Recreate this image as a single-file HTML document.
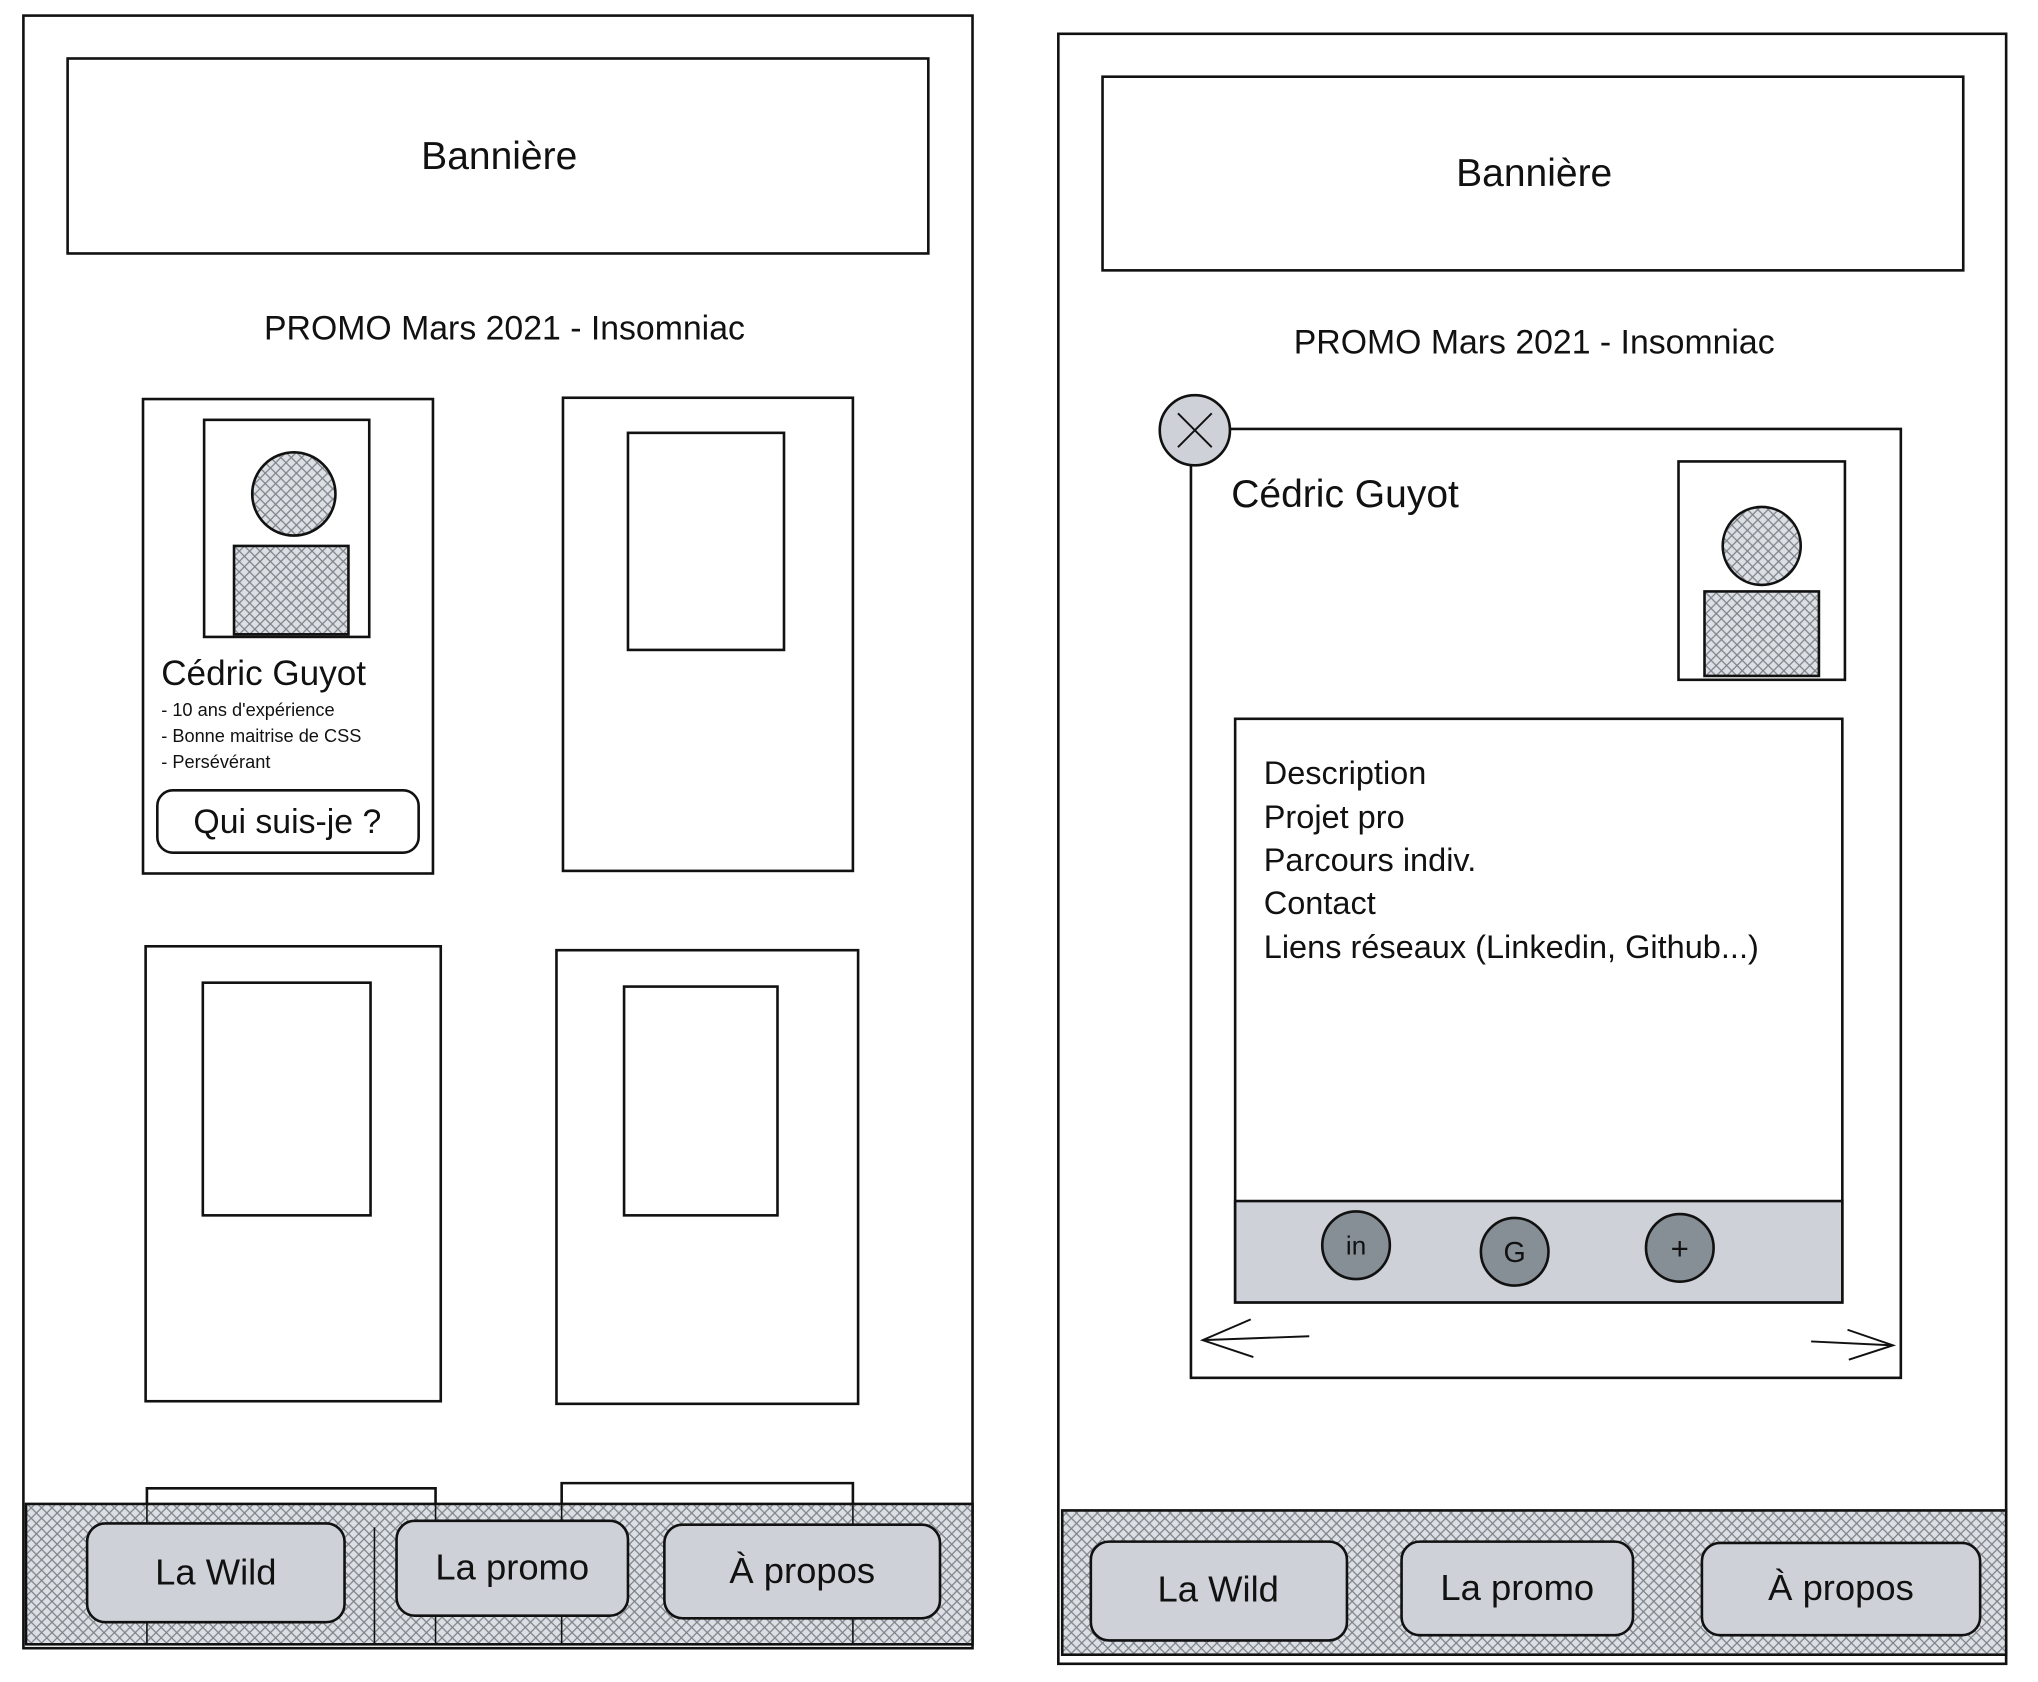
<!DOCTYPE html>
<html><head><meta charset="utf-8"><style>
html,body{margin:0;padding:0;background:#fff;}
svg{display:block;}
text{font-family:"Liberation Sans",sans-serif;fill:#111;}
</style></head><body>
<svg width="2038" height="1682" viewBox="0 0 1567.5 1294" preserveAspectRatio="none" xmlns="http://www.w3.org/2000/svg">
<defs>
<pattern id="h" width="8" height="8" patternUnits="userSpaceOnUse">
<rect width="8" height="8" fill="#dcdfe3"/>
<path d="M0,8 L8,0 M-1,1 L1,-1 M7,9 L9,7" stroke="#7d838a" stroke-width="1"/>
<path d="M0,0 L8,8 M-1,7 L1,9 M7,-1 L9,1" stroke="#7d838a" stroke-width="1"/>
</pattern>
</defs>
<g fill="none" stroke="#111" stroke-width="2">
<!-- LEFT PHONE -->
<rect x="18" y="12" width="730" height="1256" fill="#fff"/>
<rect x="52" y="45" width="662" height="150"/>
<rect x="110" y="307" width="223" height="365"/>
<rect x="157" y="323" width="127" height="167"/>
<circle cx="226" cy="380" r="32" fill="url(#h)"/>
<rect x="180" y="420" width="88" height="68" fill="url(#h)"/>
<rect x="121" y="608" width="201" height="48" rx="12"/>
<rect x="433" y="306" width="223" height="364"/>
<rect x="483" y="333" width="120" height="167"/>
<rect x="112" y="728" width="227" height="350"/>
<rect x="156" y="756" width="129" height="179"/>
<rect x="428" y="731" width="232" height="349"/>
<rect x="480" y="759" width="118" height="176"/>
<path d="M113,1265 V1145 H335 V1265 M432,1265 V1141 H656 V1265"/>
<rect x="20" y="1157" width="728" height="108" fill="url(#h)"/>
<path d="M113,1265 V1157 M335,1265 V1157 M432,1265 V1157 M656,1265 V1157 M288,1265 V1175" stroke-width="1.2"/>
<rect x="67" y="1172" width="198" height="76" rx="14" fill="#ced2d8"/>
<rect x="305" y="1170" width="178" height="73" rx="14" fill="#ced2d8"/>
<rect x="511" y="1173" width="212" height="72" rx="14" fill="#ced2d8"/>
<!-- RIGHT PHONE -->
<rect x="814" y="26" width="729" height="1254" fill="#fff"/>
<rect x="848" y="59" width="662" height="149"/>
<rect x="916" y="330" width="546" height="730"/>
<circle cx="919" cy="331" r="27" fill="#ced2d8"/>
<path d="M906,318 L932,344 M932,318 L906,344" stroke-width="1.5"/>
<rect x="1291" y="355" width="128" height="168"/>
<circle cx="1355" cy="420" r="30" fill="url(#h)"/>
<rect x="1311" y="455" width="88" height="65" fill="url(#h)"/>
<rect x="950" y="553" width="467" height="449"/>
<rect x="950" y="924" width="467" height="78" fill="#ced2d8"/>
<circle cx="1043" cy="958" r="26" fill="#868e96"/>
<circle cx="1165" cy="963" r="26" fill="#868e96"/>
<circle cx="1292" cy="960" r="26" fill="#868e96"/>
<path d="M1007,1028 L925,1031 M962,1015 L925,1031 L964,1044" stroke-width="1.5"/>
<path d="M1393,1032 L1456,1035 M1421,1023 L1456,1035 L1422,1046" stroke-width="1.5"/>
<rect x="817" y="1162" width="726" height="111" fill="url(#h)"/>
<rect x="839" y="1186" width="197" height="76" rx="14" fill="#ced2d8"/>
<rect x="1078" y="1186" width="178" height="72" rx="14" fill="#ced2d8"/>
<rect x="1309" y="1187" width="214" height="71" rx="14" fill="#ced2d8"/>
</g>
<g text-anchor="middle">
<text x="384" y="130" font-size="30">Bannière</text>
<text x="388" y="261" font-size="26">PROMO Mars 2021 - Insomniac</text>
<text x="221" y="641" font-size="26">Qui suis-je ?</text>
<text x="166" y="1219" font-size="28">La Wild</text>
<text x="394" y="1215" font-size="28">La promo</text>
<text x="617" y="1218" font-size="28">À propos</text>
<text x="1180" y="143" font-size="30">Bannière</text>
<text x="1180" y="272" font-size="26">PROMO Mars 2021 - Insomniac</text>
<text x="937" y="1232" font-size="28">La Wild</text>
<text x="1167" y="1231" font-size="28">La promo</text>
<text x="1416" y="1231" font-size="28">À propos</text>
<text x="1043" y="965" font-size="20">in</text>
<text x="1165" y="971" font-size="22">G</text>
<text x="1292" y="969" font-size="24">+</text>
</g>
<text x="124" y="527" font-size="27">Cédric Guyot</text>
<text x="124" y="551" font-size="14">- 10 ans d'expérience</text>
<text x="124" y="571" font-size="14">- Bonne maitrise de CSS</text>
<text x="124" y="591" font-size="14">- Persévérant</text>
<text x="947" y="390" font-size="30">Cédric Guyot</text>
<g font-size="25">
<text x="972" y="603">Description</text>
<text x="972" y="637">Projet pro</text>
<text x="972" y="670">Parcours indiv.</text>
<text x="972" y="703">Contact</text>
<text x="972" y="737">Liens réseaux (Linkedin, Github...)</text>
</g>
</svg>
</body></html>
